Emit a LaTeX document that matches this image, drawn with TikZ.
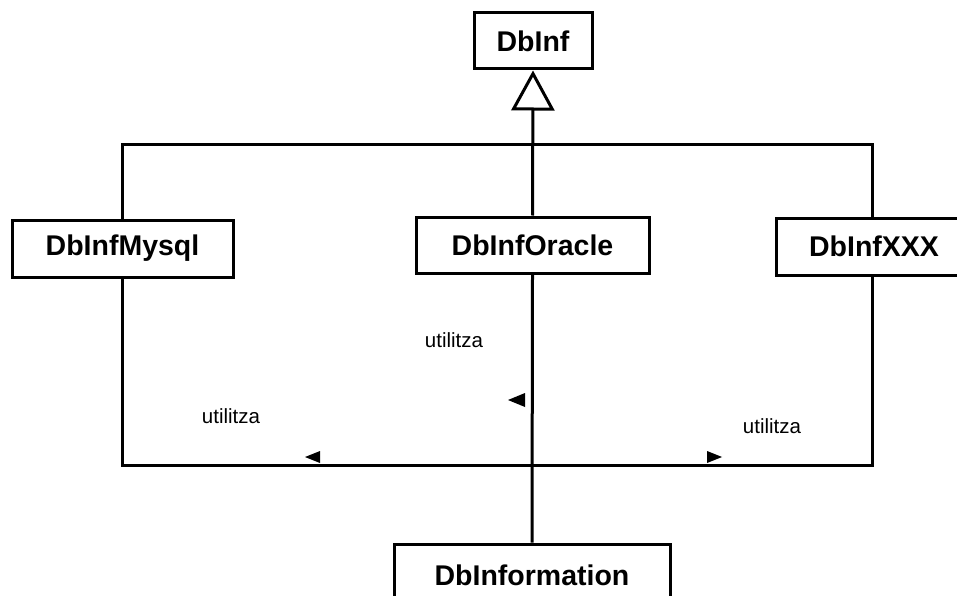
\documentclass[tikz,border=0pt]{standalone}
\usepackage{fontspec}
\setmainfont{Liberation Sans}
\usetikzlibrary{arrows.meta}

\tikzset{
  classbox/.style={draw, line width=3pt, fill=white, inner sep=0pt,
    minimum height=57pt, font=\bfseries\fontsize{28.5}{30}\selectfont},
  assoc/.style={line width=3pt},
  inherit/.style={line width=3pt, -{Triangle[open, length=40pt, width=43pt]}},
  uselabel/.style={inner sep=0pt, anchor=base, font=\fontsize{20.5}{22}\selectfont}
}

\begin{document}
\begin{tikzpicture}[x=1pt, y=-1pt]
% page frame, 957 x 596
\useasboundingbox (0,0) rectangle (957,596);
\clip (0,0) rectangle (957,596);
% Classes
\node[classbox, minimum width=118pt, minimum height=56pt] (dbinf) at (533,41) {DbInf};
\node[classbox, minimum width=221pt] (mysql) at (122.5,248.5) {DbInfMysql};
\node[classbox, minimum width=233pt, minimum height=56pt] (oracle) at (532.5,245) {DbInfOracle};
\node[classbox, minimum width=196pt] (xxx) at (874,246.5) {DbInfXXX};
\node[classbox, minimum width=276pt, minimum height=62pt] (info) at (532,575) {DbInformation};
% Junctions
\coordinate (top) at (533,145);
\coordinate (bot) at (532,465);
% Generalisation
\draw[assoc] (mysql.north) |- (top) -| ([xshift=-2pt]xxx.north);
\draw[inherit] (oracle.north) -- (dbinf.south);
% Usage
\draw[assoc] (mysql.south) |- (bot) -| ([xshift=-2pt]xxx.south);
\draw[assoc] (oracle.south) -- (info.north);
% Direction marks
\fill (305,457) -- (320,451) -- (320,463) -- cycle;
\fill (508,400) -- (525,393) -- (525,407) -- cycle;
\fill (722,457) -- (707,451) -- (707,463) -- cycle;
% Labels
\node[uselabel] (uselbl1) at (231,423) {utilitza};
\node[uselabel] (uselbl2) at (454,347) {utilitza};
\node[uselabel] (uselbl3) at (772,433) {utilitza};
\end{tikzpicture}
\end{document}
